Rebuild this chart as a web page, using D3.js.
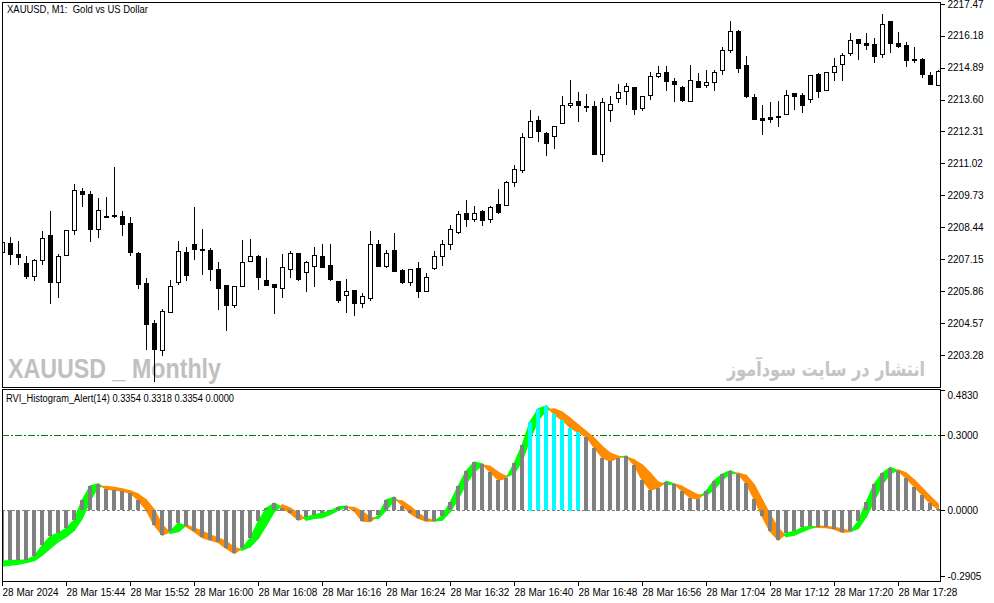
<!DOCTYPE html>
<html>
<head>
<meta charset="utf-8">
<script src="https://cdn.jsdelivr.net/npm/d3@7"></script>
<style>
  body { margin: 0; background: #fff; }
  svg { display: block; }
  text { font-family: "Liberation Sans", Arial, sans-serif; }
</style>
</head>
<body>
<svg id="chart" width="994" height="603"></svg>
<script>
// M1 candles, 28 Mar 2024 from 15:36
const opens = [2207.43,2207.80,2207.36,2207.00,2206.46,2207.10,2208.11,2206.24,2207.33,2208.32,
  2209.90,2209.77,2208.38,2208.89,2208.93,2208.88,2208.61,2207.39,2206.19,2204.57,
  2203.49,2205.00,2206.24,2207.43,2207.75,2207.57,2207.51,2206.74,2206.09,2205.29,
  2206.05,2207.06,2207.27,2206.30,2206.16,2205.97,2206.74,2207.39,2206.62,2206.86,
  2207.27,2206.90,2206.27,2205.69,2205.89,2205.39,2205.59,2207.75,2206.89,2207.52,
  2206.71,2206.24,2206.78,2205.88,2206.78,2207.27,2207.75,2208.26,2209.02,2208.76,
  2209.10,2208.79,2209.37,2209.33,2210.26,2210.76,2212.07,2212.77,2212.24,2212.11,
  2212.64,2213.37,2213.53,2213.34,2213.33,2211.41,2213.16,2213.65,2213.93,2214.09,
  2213.25,2213.78,2214.54,2214.71,2214.35,2214.09,2213.53,2214.35,2214.17,2214.30,
  2214.78,2215.61,2216.37,2214.98,2213.69,2212.85,2212.91,2212.95,2213.00,2213.85,
  2213.77,2213.61,2214.63,2213.97,2214.70,2215.02,2215.48,2216.03,2215.88,2215.84,
  2215.43,2216.77,2215.88,2215.80,2215.25,2215.25,2214.58,2214.20];
const highs = [2208.01,2208.05,2207.90,2207.28,2207.16,2208.29,2209.10,2207.35,2208.32,2210.19,
  2210.01,2209.89,2209.62,2209.66,2210.87,2209.10,2208.84,2207.43,2206.40,2204.70,
  2205.12,2206.31,2207.88,2207.64,2209.26,2208.37,2207.61,2207.05,2206.09,2206.08,
  2207.92,2207.96,2207.31,2207.19,2206.16,2207.36,2207.48,2207.39,2207.06,2207.64,
  2207.76,2207.76,2206.27,2206.35,2205.89,2205.78,2208.29,2207.92,2207.52,2208.21,
  2206.74,2206.74,2207.02,2206.58,2207.47,2207.92,2208.53,2209.10,2209.54,2209.30,
  2209.12,2209.30,2209.98,2210.30,2210.95,2212.24,2213.18,2212.93,2212.29,2212.52,
  2213.73,2214.39,2213.90,2213.82,2213.53,2213.65,2213.73,2214.23,2214.26,2214.09,
  2213.74,2214.72,2214.95,2214.95,2214.47,2214.13,2214.99,2214.67,2214.79,2214.79,
  2215.72,2216.76,2216.40,2215.36,2213.82,2213.37,2213.50,2213.53,2213.98,2213.85,
  2213.85,2214.58,2214.66,2214.71,2215.28,2215.48,2216.29,2216.06,2216.29,2216.09,
  2217.05,2216.77,2216.33,2215.92,2215.72,2215.28,2214.70,2214.79];
const lows = [2207.28,2206.97,2206.97,2206.40,2206.32,2206.97,2205.39,2205.63,2207.33,2208.17,
  2209.31,2207.90,2208.05,2208.84,2208.87,2208.14,2207.31,2206.00,2203.53,2202.23,
  2203.27,2205.00,2206.16,2206.32,2207.17,2206.56,2206.32,2205.15,2204.30,2205.23,
  2206.05,2207.06,2205.96,2206.12,2204.99,2205.63,2206.44,2206.32,2205.88,2206.08,
  2206.82,2206.32,2205.43,2205.03,2204.91,2205.21,2205.51,2206.89,2206.85,2206.68,
  2206.18,2206.12,2205.63,2205.88,2206.74,2206.91,2207.55,2208.22,2208.49,2208.68,
  2208.53,2208.65,2209.03,2209.33,2210.12,2210.68,2212.07,2211.94,2211.37,2211.65,
  2212.64,2213.31,2212.72,2213.12,2211.39,2211.13,2212.74,2213.49,2213.41,2213.00,
  2213.16,2213.61,2214.50,2213.97,2213.53,2213.53,2213.53,2214.09,2214.09,2213.97,
  2214.62,2215.53,2214.70,2213.69,2212.80,2212.19,2212.68,2212.54,2213.00,2213.20,
  2213.11,2213.49,2213.71,2213.97,2214.40,2214.40,2215.39,2215.25,2215.65,2215.13,
  2215.33,2215.53,2215.71,2214.97,2215.13,2214.50,2214.21,2214.17];
const closes = [2207.86,2207.37,2207.23,2206.48,2207.12,2207.99,2206.24,2207.27,2208.32,2209.93,
  2209.80,2208.38,2209.12,2208.88,2208.90,2208.58,2207.45,2206.16,2204.54,2203.53,
  2205.04,2206.07,2207.47,2206.52,2207.55,2207.51,2206.76,2206.00,2205.29,2206.05,
  2207.02,2207.27,2206.44,2206.12,2206.01,2206.82,2207.39,2206.36,2207.02,2207.31,
  2206.85,2206.36,2205.50,2205.86,2205.39,2205.66,2207.75,2206.89,2207.39,2206.68,
  2206.24,2206.74,2205.88,2206.42,2207.27,2207.75,2208.36,2208.96,2208.77,2209.00,
  2208.73,2209.25,2209.06,2210.26,2210.78,2212.09,2212.72,2212.34,2211.86,2212.52,
  2213.37,2213.45,2213.37,2213.32,2211.41,2213.49,2213.41,2213.89,2214.13,2213.20,
  2213.73,2214.54,2214.66,2214.35,2214.21,2213.57,2214.38,2214.12,2214.30,2214.71,
  2215.59,2216.37,2214.89,2213.73,2212.80,2212.76,2212.80,2212.93,2213.77,2213.73,
  2213.37,2214.58,2213.93,2214.71,2214.94,2215.40,2215.99,2215.87,2215.79,2215.35,
  2216.64,2215.90,2215.77,2215.21,2215.23,2214.62,2214.21,2214.75];

// RVI(14) main line (histogram) and signal line
const rviMain = [-0.205,-0.201,-0.201,-0.199,-0.185,-0.141,-0.105,-0.092,-0.072,-0.039,
  0.041,0.097,0.105,0.085,0.081,0.077,0.068,0.041,0.001,-0.059,
  -0.099,-0.085,-0.052,-0.065,-0.085,-0.109,-0.119,-0.128,-0.152,-0.172,
  -0.152,-0.112,-0.045,0.008,0.028,0.011,-0.012,-0.039,-0.028,-0.019,
  -0.012,-0.003,0.013,0.016,-0.003,-0.043,-0.045,-0.021,0.041,0.052,
  0.019,-0.012,-0.032,-0.043,-0.043,-0.023,0.032,0.097,0.157,0.192,
  0.185,0.152,0.121,0.128,0.188,0.261,0.355,0.405,0.417,0.384,
  0.361,0.331,0.312,0.295,0.251,0.211,0.197,0.211,0.216,0.181,
  0.121,0.081,0.091,0.115,0.105,0.077,0.051,0.045,0.077,0.119,
  0.144,0.157,0.144,0.108,0.045,-0.025,-0.085,-0.119,-0.092,-0.085,
  -0.069,-0.065,-0.068,-0.069,-0.075,-0.088,-0.085,-0.045,0.032,0.105,
  0.148,0.171,0.157,0.128,0.095,0.061,0.028,0.005];
const rviSignal = [-0.223,-0.219,-0.215,-0.209,-0.201,-0.179,-0.152,-0.125,-0.105,-0.079,
  -0.032,0.041,0.095,0.095,0.091,0.085,0.077,0.064,0.041,0.001,
  -0.059,-0.092,-0.085,-0.059,-0.072,-0.085,-0.099,-0.112,-0.125,-0.149,
  -0.159,-0.145,-0.112,-0.059,-0.005,0.021,0.008,-0.012,-0.039,-0.032,
  -0.029,-0.016,0.001,0.013,0.011,-0.005,-0.029,-0.032,0.001,0.041,
  0.037,0.015,-0.012,-0.032,-0.043,-0.039,-0.005,0.048,0.108,0.155,
  0.181,0.175,0.152,0.135,0.148,0.201,0.288,0.361,0.401,0.405,
  0.392,0.368,0.341,0.315,0.288,0.255,0.228,0.215,0.213,0.201,
  0.181,0.148,0.112,0.104,0.105,0.095,0.077,0.061,0.061,0.085,
  0.121,0.148,0.148,0.139,0.101,0.041,-0.019,-0.072,-0.105,-0.099,
  -0.085,-0.072,-0.064,-0.065,-0.069,-0.075,-0.085,-0.072,-0.025,0.041,
  0.104,0.148,0.161,0.148,0.121,0.088,0.055,0.024];

const priceTicks = [2217.47,2216.18,2214.89,2213.60,2212.31,2211.02,2209.73,2208.44,2207.15,2205.86,2204.57,2203.28];
const rviTicks = [0.4830, 0.3000, 0.0000, -0.2905];
const rviLevel = 0.3;
const timeTickLabels = ['15:36','15:44','15:52','16:00','16:08','16:16','16:24','16:32','16:40','16:48','16:56','17:04','17:12','17:20','17:28'];

const svg = d3.select('#chart');

// window boxes
const mainTop = 2, mainBottom = 387, subTop = 389, subBottom = 582, left = 2, right = 941;

const parseTime = d3.timeParse('%Y-%m-%d %H:%M');
const startTime = parseTime('2024-03-28 15:36');
const times = opens.map((d, i) => d3.timeMinute.offset(startTime, i));
const tickTimes = timeTickLabels.map(t => parseTime('2024-03-28 ' + t));

const x = d3.scaleTime()
    .domain([times[0], times[times.length - 1]])
    .range([2.3, 938.3]);

const y = d3.scaleLinear().domain([2203.28, 2216.18]).range([355, 35.7]);
const yr = d3.scaleLinear().domain([0, 0.3]).range([510.3, 435.3]);

const px = i => Math.round(x(times[i])) + 0.5;

const defs = svg.append('defs');
defs.append('clipPath').attr('id', 'clipMain')
  .append('rect').attr('x', left + 0.5).attr('y', mainTop + 0.5)
  .attr('width', right - left - 1).attr('height', mainBottom - mainTop - 1);
defs.append('clipPath').attr('id', 'clipSub')
  .append('rect').attr('x', left + 0.5).attr('y', subTop + 0.5)
  .attr('width', right - left - 1).attr('height', subBottom - subTop - 1);

// ---------- main window ----------
const gMain = svg.append('g').attr('clip-path', 'url(#clipMain)');

// watermarks
gMain.append('text')
    .attr('x', 8).attr('y', 378)
    .attr('textLength', 213).attr('lengthAdjust', 'spacingAndGlyphs')
    .style('font-size', '28px').style('font-weight', 'bold')
    .style('fill', '#c0c0c0')
    .text('XAUUSD _ Monthly');

gMain.append('text')
    .attr('x', 727).attr('y', 376)
    .attr('textLength', 198).attr('lengthAdjust', 'spacingAndGlyphs')
    .style('font-family', '"DejaVu Sans", sans-serif')
    .style('font-size', '20px').style('font-weight', 'bold')
    .style('fill', '#c4c4c4')
    .text('انتشار در سایت سودآموز');

const candles = gMain.append('g').attr('shape-rendering', 'crispEdges');
opens.forEach((o, i) => {
  const c = closes[i];
  const cx = px(i);
  candles.append('line')
      .attr('x1', cx).attr('x2', cx)
      .attr('y1', Math.round(y(highs[i]))).attr('y2', Math.round(y(lows[i])) + 1)
      .attr('stroke', '#000').attr('stroke-width', 1);
  const top = Math.round(y(Math.max(o, c)));
  const bot = Math.round(y(Math.min(o, c)));
  candles.append('rect')
      .attr('x', cx - 2).attr('width', 4)
      .attr('y', top + 0.5).attr('height', Math.max(bot - top, 1))
      .attr('fill', c >= o ? '#fff' : '#000')
      .attr('stroke', '#000').attr('stroke-width', 1);
});

svg.append('text')
    .attr('x', 7).attr('y', 13)
    .attr('textLength', 141).attr('lengthAdjust', 'spacingAndGlyphs')
    .style('font-size', '10.5px').style('white-space', 'pre')
    .text('XAUUSD, M1:  Gold vs US Dollar');

// ---------- RVI sub window ----------
const gSub = svg.append('g').attr('clip-path', 'url(#clipSub)');

gSub.append('line')
    .attr('x1', left).attr('x2', right)
    .attr('y1', Math.round(yr(rviLevel)) + 0.5).attr('y2', Math.round(yr(rviLevel)) + 0.5)
    .attr('stroke', '#008000').attr('stroke-width', 1)
    .attr('stroke-dasharray', '7,2,2,2');

gSub.append('line')
    .attr('x1', left).attr('x2', right)
    .attr('y1', Math.round(yr(0)) + 0.5).attr('y2', Math.round(yr(0)) + 0.5)
    .attr('stroke', '#808080').attr('stroke-width', 1)
    .attr('stroke-dasharray', '3,2');

// colored filling between main and signal
const green = '#00ff00', orange = '#ff8c00';
const poly = d3.line().x(d => d[0]).y(d => yr(d[1]));
const band = gSub.append('g');
for (let i = 0; i < rviMain.length - 1; i++) {
  const x0 = x(times[i]), x1 = x(times[i + 1]);
  const m0 = rviMain[i], m1 = rviMain[i + 1], s0 = rviSignal[i], s1 = rviSignal[i + 1];
  const d0 = m0 - s0, d1 = m1 - s1;
  const pieces = [];
  if (d0 * d1 >= 0) {
    pieces.push({ pts: [[x0, m0], [x1, m1], [x1, s1], [x0, s0]], up: (d0 + d1) >= 0 });
  } else {
    const t = d0 / (d0 - d1);
    const xc = x0 + t * (x1 - x0), vc = m0 + t * (m1 - m0);
    pieces.push({ pts: [[x0, m0], [xc, vc], [x0, s0]], up: d0 > 0 });
    pieces.push({ pts: [[xc, vc], [x1, m1], [x1, s1]], up: d1 > 0 });
  }
  pieces.forEach(p => {
    band.append('path')
        .attr('d', poly(p.pts) + 'Z')
        .attr('fill', p.up ? green : orange)
        .attr('stroke', p.up ? green : orange)
        .attr('stroke-width', 1.5)
        .attr('stroke-linejoin', 'round');
  });
}

// histogram bars
gSub.append('g').attr('shape-rendering', 'crispEdges')
  .selectAll('rect')
  .data(rviMain)
  .join('rect')
    .attr('x', (d, i) => px(i) - 2.5)
    .attr('width', 4)
    .attr('y', d => Math.round(Math.min(yr(d), yr(0))))
    .attr('height', d => Math.max(Math.round(Math.abs(yr(d) - yr(0))), 1))
    .attr('fill', d => d > rviLevel ? '#00ffff' : '#808080');

svg.append('text')
    .attr('x', 6).attr('y', 402)
    .attr('textLength', 228).attr('lengthAdjust', 'spacingAndGlyphs')
    .style('font-size', '10px')
    .text('RVI_Histogram_Alert(14) 0.3354 0.3318 0.3354 0.0000');

// ---------- frames ----------
svg.append('rect')
    .attr('x', left + 0.5).attr('y', mainTop + 0.5)
    .attr('width', right - left - 1).attr('height', mainBottom - mainTop)
    .attr('fill', 'none').attr('stroke', '#000').attr('shape-rendering', 'crispEdges');
svg.append('rect')
    .attr('x', left + 0.5).attr('y', subTop + 0.5)
    .attr('width', right - left - 1).attr('height', subBottom - subTop - 1)
    .attr('fill', 'none').attr('stroke', '#000').attr('shape-rendering', 'crispEdges');

// ---------- axes ----------
const priceAxis = svg.append('g')
    .attr('transform', `translate(${right - 0.5},0)`)
    .call(d3.axisRight(y).tickValues(priceTicks).tickSize(4).tickFormat(d => d.toFixed(2)));
priceAxis.select('.domain').remove();
priceAxis.selectAll('.tick').filter((d, i) => i === 0)
    .attr('transform', 'translate(0,4.5)');

const rviAxis = svg.append('g')
    .attr('transform', `translate(${right - 0.5},0)`)
    .call(d3.axisRight(yr).tickValues(rviTicks).tickSize(4).tickFormat(d => d.toFixed(4)));
rviAxis.select('.domain').remove();
rviAxis.selectAll('.tick').filter(d => d === rviTicks[0])
    .attr('transform', `translate(0,${subTop + 1.5})`)
    .select('text').attr('dy', '0.85em');
rviAxis.selectAll('.tick').filter(d => d === rviTicks[3])
    .attr('transform', `translate(0,${subBottom - 5.5})`);

const timeAxis = svg.append('g')
    .attr('transform', `translate(0,${subBottom})`)
    .call(d3.axisBottom(x).tickValues(tickTimes).tickSize(4)
      .tickFormat((d, i) => i === 0 ? '28 Mar 2024' : '28 Mar ' + d3.timeFormat('%H:%M')(d)));
timeAxis.select('.domain').remove();
timeAxis.selectAll('.tick').attr('transform', d => `translate(${Math.round(x(d)) + 0.5},0)`);
timeAxis.selectAll('.tick text').attr('text-anchor', 'start').attr('x', 0);

svg.selectAll('.tick text').style('font-family', '"Liberation Sans", Arial, sans-serif')
    .style('font-size', '10px').attr('fill', '#000');
svg.selectAll('.tick line').attr('stroke', '#000').attr('shape-rendering', 'crispEdges');
</script>
</body>
</html>
